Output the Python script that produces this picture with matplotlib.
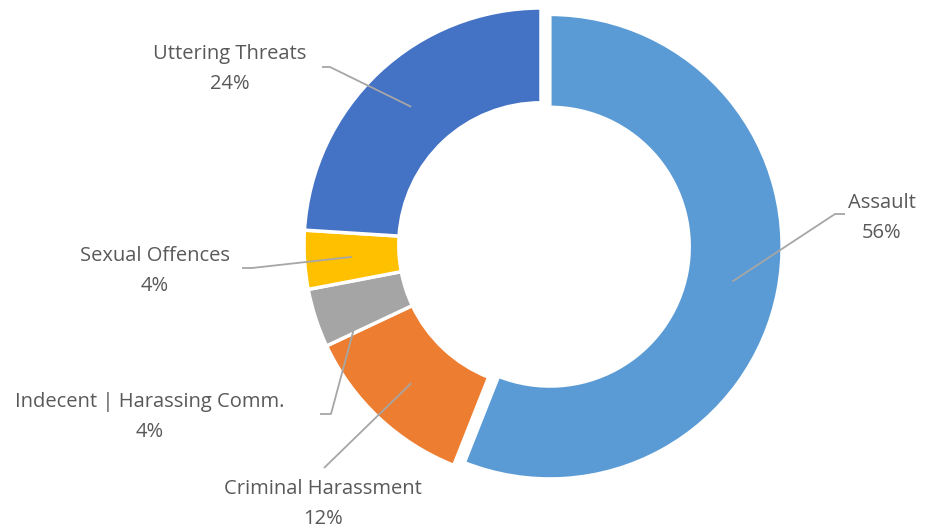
import numpy as np
import matplotlib
matplotlib.use('Agg')
from matplotlib import pyplot as plt

plt.rcParams['font.family'] = ['Open Sans', 'DejaVu Sans']

# data
categories = ['Assault', 'Criminal Harassment', 'Indecent | Harassing Comm.',
              'Sexual Offences', 'Uttering Threats']
values = [56, 12, 4, 4, 24]
colors = ['#5B9BD5', '#ED7D31', '#A5A5A5', '#FFC000', '#4472C4']

# layout (pixel coords, y up)
W, H = 928, 529
cx, cy = 541, H - 245
R = 237
ring = 0.40
explode = [9, 0, 0, 0, 0]    # pie() does not scale explode by radius
expl_shrink = 0.98           # exploded slice is drawn a bit smaller

# where each label text sits and where its leader line starts (x of the stub)
label_pos = [(882, H - 218), (323, H - 504), (150, H - 417), (155, H - 271), (230, H - 69)]
stub = [(845, 835), (324, 324), (320, 331), (242, 252), (322, 330)]
stub_y = [H - 214, H - 468, H - 414, H - 268, H - 67]

fig = plt.figure(figsize=(W / 100, H / 100), dpi=100)
ax = fig.add_axes([0, 0, 1, 1])

wedges, _ = ax.pie(values, colors=colors, explode=explode, startangle=90,
                   counterclock=False, center=(cx, cy), radius=R,
                   wedgeprops=dict(width=R * ring, edgecolor='white', linewidth=2.5))
for w, e in zip(wedges, explode):
    if e:
        w.set_radius(R * expl_shrink)
        w.set_width(R * ring * expl_shrink)
ax.set_xlim(0, W)
ax.set_ylim(0, H)
ax.set_aspect('auto')
ax.axis('off')

total = sum(values)
for i, w in enumerate(wedges):
    ang = np.deg2rad((w.theta1 + w.theta2) / 2)
    wcx, wcy = w.center
    r_mid = w.r - w.width / 2
    axx = wcx + r_mid * np.cos(ang)
    ayy = wcy + r_mid * np.sin(ang)
    x0, x1 = stub[i]
    ax.plot([x0, x1, axx], [stub_y[i], stub_y[i], ayy],
            color='#A6A6A6', lw=1.3, solid_capstyle='butt', zorder=3)
    tx, ty = label_pos[i]
    ax.text(tx, ty, '%s\n%d%%' % (categories[i], round(100 * values[i] / total)),
            ha='center', va='center', fontsize=14.5, color='#595959',
            linespacing=1.62)

fig.savefig('out.png', dpi=100)
